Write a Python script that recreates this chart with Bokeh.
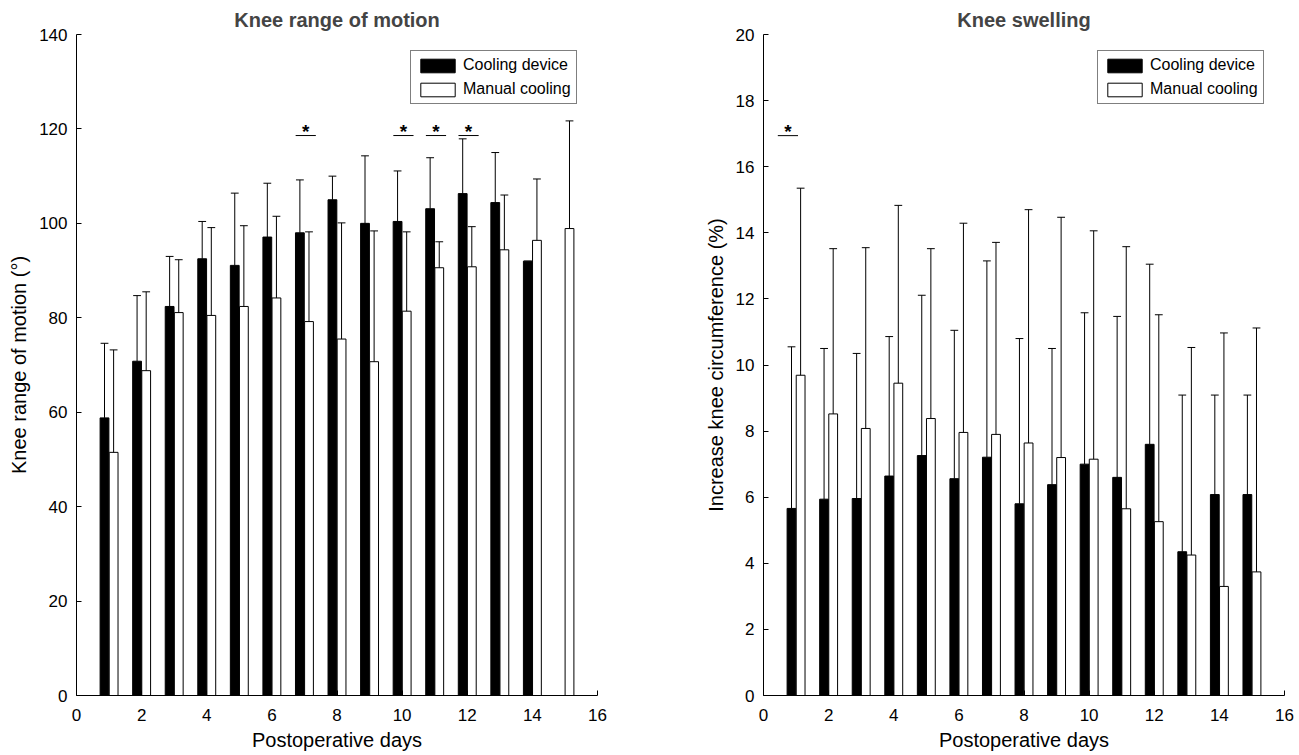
from bokeh.plotting import figure
from bokeh.models import Range1d, ColumnDataSource, Legend, LegendItem, FixedTicker
from bokeh.layouts import row
from bokeh.embed import file_html
from bokeh.resources import INLINE
from bokeh.core.properties import value

FONT = "Liberation Sans"

# ---------------- data ----------------
days = list(range(1, 16))
x_ticks = [0, 2, 4, 6, 8, 10, 12, 14, 16]

# Knee range of motion (degrees): mean and SD (upper error bar)
rom_device_mean = [58.8, 70.8, 82.4, 92.5, 91.1, 97.1, 98.0, 105.0, 100.0, 100.4, 103.1, 106.3, 104.4, 92.0, None]
rom_device_sd = [15.8, 13.9, 10.6, 7.9, 15.3, 11.4, 11.2, 5.0, 14.3, 10.7, 10.8, 11.6, 10.6, 0.0, None]
rom_manual_mean = [51.5, 68.8, 81.1, 80.5, 82.4, 84.2, 79.2, 75.5, 70.7, 81.4, 90.6, 90.8, 94.4, 96.4, 98.9]
rom_manual_sd = [21.7, 16.7, 11.2, 18.6, 17.1, 17.3, 19.0, 24.6, 27.7, 16.8, 5.5, 8.5, 11.6, 13.0, 22.8]
rom_sig_days = [7, 10, 11, 12]
rom_y_ticks = [0, 20, 40, 60, 80, 100, 120, 140]

# Knee swelling (% increase of circumference): mean and SD
sw_device_mean = [5.66, 5.94, 5.96, 6.64, 7.26, 6.56, 7.21, 5.80, 6.38, 7.00, 6.60, 7.60, 4.35, 6.08, 6.08]
sw_device_sd = [4.89, 4.56, 4.39, 4.22, 4.85, 4.49, 5.94, 5.00, 4.12, 4.58, 4.87, 5.45, 4.74, 3.01, 3.01]
sw_manual_mean = [9.69, 8.52, 8.08, 9.45, 8.38, 7.96, 7.90, 7.64, 7.20, 7.15, 5.65, 5.26, 4.25, 3.30, 3.74]
sw_manual_sd = [5.66, 5.00, 5.47, 5.38, 5.14, 6.33, 5.81, 7.06, 7.27, 6.91, 7.93, 6.26, 6.28, 7.67, 7.38]
sw_sig_days = [1]
sw_y_ticks = [0, 2, 4, 6, 8, 10, 12, 14, 16, 18, 20]

series_labels = ["Cooling device", "Manual cooling"]


def panel(title, ylabel, yticks, dev_mean, dev_sd, man_mean, man_sd,
          sig_days, sig_y, sig_shift, width, border_left, border_right):
    H = 755
    p = figure(width=width, height=H, x_range=Range1d(0, 16),
               y_range=Range1d(yticks[0], yticks[-1]),
               output_backend="svg", toolbar_location=None,
               min_border_left=border_left, min_border_right=border_right,
               min_border_top=34, min_border_bottom=60,
               background_fill_color="white", border_fill_color="white")
    p.outline_line_color = None
    p.grid.visible = False

    p.title.text = title
    p.title.text_font = FONT
    p.title.text_font_size = "20px"
    p.title.text_font_style = "bold"
    p.title.align = "center"
    p.title.standoff = 8

    bw = 0.27
    off = 0.14

    def group(means, sds, shift, fill):
        xs = [d + shift for d, m in zip(days, means) if m is not None]
        ms = [m for m in means if m is not None]
        ss = [s for m, s in zip(means, sds) if m is not None]
        src = ColumnDataSource(dict(x=xs, top=ms,
                                    up=[m + s for m, s in zip(ms, ss)],
                                    cl=[x - 0.12 for x in xs],
                                    cr=[x + 0.12 for x in xs]))
        r = p.vbar(x="x", top="top", bottom=0, width=bw, source=src,
                   fill_color=fill, line_color="black", line_width=1)
        p.segment(x0="x", y0="top", x1="x", y1="up", source=src,
                  line_color="black", line_width=1)
        p.segment(x0="cl", y0="up", x1="cr", y1="up", source=src,
                  line_color="black", line_width=1)
        return r

    r_dev = group(dev_mean, dev_sd, -off, "black")
    r_man = group(man_mean, man_sd, off, "white")

    # significance markers
    sx = [d + sig_shift for d in sig_days]
    p.segment(x0=[x - 0.31 for x in sx], y0=[sig_y] * len(sx),
              x1=[x + 0.31 for x in sx], y1=[sig_y] * len(sx),
              line_color="black", line_width=1)
    p.text(x=sx, y=[sig_y] * len(sx), text=["*"] * len(sx),
           text_align="center", text_baseline="alphabetic", y_offset=-4,
           text_font=value(FONT), text_font_size="19px",
           text_font_style="bold", text_color="black")

    legend = Legend(items=[LegendItem(label=series_labels[0], renderers=[r_dev]),
                           LegendItem(label=series_labels[1], renderers=[r_man])],
                    location=(334, 591))
    legend.margin = 0
    legend.padding = 5
    legend.spacing = 6
    legend.glyph_width = 43
    legend.glyph_height = 17
    legend.label_height = 17
    legend.label_standoff = 4
    legend.label_text_font = FONT
    legend.label_text_font_size = "16px"
    legend.label_text_baseline = "middle"
    legend.label_text_color = "black"
    legend.border_line_color = "black"
    legend.border_line_width = 1
    legend.background_fill_color = "white"
    legend.background_fill_alpha = 1
    p.add_layout(legend)

    p.xaxis.ticker = FixedTicker(ticks=x_ticks)
    p.yaxis.ticker = FixedTicker(ticks=yticks)
    p.xaxis.axis_label = "Postoperative days"
    p.yaxis.axis_label = ylabel
    for ax in (p.xaxis[0], p.yaxis[0]):
        ax.major_tick_in = 5
        ax.major_tick_out = 0
        ax.minor_tick_line_color = None
        ax.axis_line_color = "black"
        ax.major_tick_line_color = "black"
        ax.major_label_text_font = FONT
        ax.major_label_text_font_size = "17px"
        ax.major_label_text_color = "black"
        ax.axis_label_text_font = FONT
        ax.axis_label_text_font_size = "20px"
        ax.axis_label_text_font_style = "normal"
        ax.axis_label_text_color = "black"
    p.xaxis.major_label_standoff = 13
    p.xaxis.axis_label_standoff = 5
    p.yaxis.major_label_standoff = 9
    p.yaxis.axis_label_standoff = 6
    return p


p1 = panel("Knee range of motion", "Knee range of motion (°)", rom_y_ticks,
           rom_device_mean, rom_device_sd, rom_manual_mean, rom_manual_sd,
           rom_sig_days, 118.6, 0.04, 650, 76, 53)
p2 = panel("Knee swelling", "Increase knee circumference (%)", sw_y_ticks,
           sw_device_mean, sw_device_sd, sw_manual_mean, sw_manual_sd,
           sw_sig_days, 16.94, -0.25, 648, 113, 14)

layout = row(p1, p2)
open("out.html", "w").write(file_html(layout, INLINE))
